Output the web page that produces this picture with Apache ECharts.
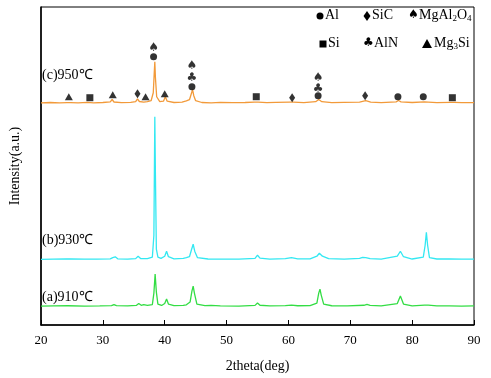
<!DOCTYPE html>
<html><head><meta charset="utf-8">
<script src="https://cdn.jsdelivr.net/npm/echarts@6/dist/echarts.min.js"></script>
<style>html,body{margin:0;padding:0;background:#fff}#c{width:491px;height:378px}</style>
</head><body><div id="c"></div>
<script>
// ---- Data ----
var xTicks = [20, 30, 40, 50, 60, 70, 80, 90];

// (c) 950 ℃
var cTheta = [20,21.5,23,24.2,24.5,24.8,26,27.5,28.5,30,31.2,31.5,31.8,33,34.5,35.3,35.6,35.9,36.6,36.9,37.2,37.8,38.15,38.3,38.4,38.5,38.7,39.2,39.8,40.1,40.4,41.5,42.8,43.5,44.0,44.3,44.5,44.7,45.0,46,47.5,49,51,53,54.5,54.8,55.1,56.5,58,60.2,60.5,60.8,62.5,64.4,64.9,65.4,67,69,71.5,72.5,73.3,75,77.4,77.8,78.2,80,82.0,82.3,82.6,84,86.2,86.5,86.8,88,90];
var cInt = [2228,2232,2229,2231,2245,2231,2228,2233,2229,2232,2238,2262,2237,2230,2233,2240,2268,2242,2236,2255,2240,2250,2330,2520,2640,2480,2290,2240,2245,2290,2245,2232,2236,2248,2260,2320,2360,2300,2250,2232,2229,2233,2230,2232,2236,2252,2236,2230,2233,2236,2246,2236,2231,2240,2262,2240,2231,2233,2235,2250,2236,2231,2238,2252,2238,2232,2238,2248,2236,2231,2234,2242,2233,2230,2231];

// (b) 930 ℃
var bTheta = [20,22,24.1,24.4,24.7,27,29,31.2,31.6,32.0,32.4,34,35.3,35.7,36.1,37.2,38.0,38.25,38.4,38.5,38.65,38.9,39.4,40.0,40.3,40.6,41.5,43.0,43.5,44.0,44.35,44.6,44.85,45.3,47,49,52,54.6,55.0,55.4,57,59.5,60.5,61.5,63.5,64.6,65.0,65.5,66.5,69,71.5,72.0,72.5,73.2,75,77.6,78.1,78.6,80,81.8,82.1,82.3,82.5,82.8,84,86,88,90];
var bInt = [659,661,662,680,662,660,661,664,676,684,664,661,666,690,667,665,680,900,2090,1500,760,680,668,690,740,685,664,668,676,685,760,810,740,675,662,661,660,668,700,670,661,665,676,664,663,690,720,690,665,661,668,678,676,666,661,690,740,685,662,680,800,930,800,675,662,663,660,661];

// (a) 910 ℃
var aTheta = [20,22,24.4,27,29.5,31.4,31.8,32.2,34,35.4,35.8,36.2,36.6,37.2,38.0,38.25,38.45,38.65,38.9,39.5,40.0,40.3,40.6,41.5,43.0,43.5,44.1,44.4,44.6,44.8,45.2,46.5,47.5,49,52,54.6,55.0,55.4,57,59.5,60.5,61.5,63.5,64.6,64.9,65.1,65.3,65.7,67,69.5,72.2,72.7,73.2,75,77.6,78.1,78.6,80,82.0,82.3,82.6,84,86,88,90];
var aInt = [189,191,193,190,191,194,205,194,191,196,215,198,204,196,205,320,510,330,210,196,215,260,210,194,197,203,230,340,390,320,210,194,197,191,190,197,220,198,192,195,200,193,194,220,320,360,300,210,193,192,198,206,197,191,215,290,210,192,200,215,199,191,192,190,191];

// Phase identification marks (2theta, level)
var alTheta = [38.2, 44.4, 64.8, 77.7, 81.8],      alLevel = [2690, 2390, 2300, 2290, 2290];
var sicTheta = [35.6, 60.6, 72.4],                  sicLevel = [2320, 2280, 2300];
var spinelTheta = [38.2, 44.4, 64.8],               spinelLevel = [2780, 2600, 2480];
var siTheta = [27.9, 54.8, 86.5],                   siLevel = [2280, 2290, 2280];
var alnTheta = [44.4, 64.8],                        alnLevel = [2480, 2370];
var mg2siTheta = [24.5, 31.6, 36.9, 40.0],          mg2siLevel = [2290, 2310, 2290, 2320];

var seriesNames = ['(c)950℃', '(b)930℃', '(a)910℃'];

function pairs(xs, ys){ return xs.map(function(x,i){ return [x, ys[i]]; }); }

var FONT = '"Times New Roman","Liberation Serif",serif';
var chart = echarts.init(document.getElementById('c'));

function lineSeries(name, xs, ys, color){
  return {name:name, type:'line', data:pairs(xs,ys), showSymbol:false, symbol:'none',
    lineStyle:{color:color, width:1.3}, silent:true, animation:false, z:3};
}
function markSeries(xs, ys, symbol, size){
  return {type:'scatter', data:pairs(xs,ys), symbol:symbol, symbolSize:size,
    itemStyle:{color:'#000'}, silent:true, animation:false, z:5};
}
function glyphSeries(xs, ys, glyph){
  return {type:'scatter', data:pairs(xs,ys), symbolSize:1, itemStyle:{color:'rgba(0,0,0,0)'},
    label:{show:true, position:'inside', formatter:glyph, color:'#000', fontSize:12, fontFamily:'DejaVu Sans'},
    silent:true, animation:false, z:5};
}

var rich = {n:{fontFamily:FONT, fontSize:14, color:'#000'}, s:{fontFamily:FONT, fontSize:9, color:'#000', padding:[8,0,0,0]}};

chart.setOption({
  animation:false,
  backgroundColor:'#fff',
  grid:{left:40, right:17, top:7, bottom:52, show:true, borderColor:'#000', borderWidth:1},
  xAxis:{type:'value', min:20, max:90, interval:10,
    name:'2theta(deg)', nameLocation:'middle', nameGap:34,
    nameTextStyle:{fontFamily:FONT, fontSize:14, color:'#000'},
    axisLine:{lineStyle:{color:'#000', width:1.5}},
    axisTick:{inside:true, length:5, lineStyle:{color:'#000'}},
    axisLabel:{fontFamily:FONT, fontSize:13, color:'#000', margin:9},
    splitLine:{show:false}},
  yAxis:{type:'value', min:0, max:3190,
    name:'Intensity(a.u.)', nameLocation:'middle', nameGap:19,
    nameTextStyle:{fontFamily:FONT, fontSize:14, color:'#000'},
    axisLine:{show:true, lineStyle:{color:'#000', width:1.5}},
    axisTick:{show:false}, axisLabel:{show:false}, splitLine:{show:false}},
  series:[
    lineSeries(seriesNames[0], cTheta, cInt, '#F29A3A'),
    lineSeries(seriesNames[1], bTheta, bInt, '#33E8F2'),
    lineSeries(seriesNames[2], aTheta, aInt, '#33DD44'),
    markSeries(alTheta, alLevel, 'circle', 7),
    markSeries(sicTheta, sicLevel, 'diamond', [6,9]),
    markSeries(siTheta, siLevel, 'rect', 7),
    markSeries(mg2siTheta, mg2siLevel, 'triangle', [8,7]),
    glyphSeries(spinelTheta, spinelLevel, '♠'),
    glyphSeries(alnTheta, alnLevel, '♣')
  ],
  graphic:[
    {type:'text', left:42, top:68, style:{text:seriesNames[0], font:'14px '+FONT, fill:'#000'}},
    {type:'text', left:42, top:233, style:{text:seriesNames[1], font:'14px '+FONT, fill:'#000'}},
    {type:'text', left:42, top:290, style:{text:seriesNames[2], font:'14px '+FONT, fill:'#000'}},
    // legend row 1
    {type:'circle', shape:{cx:320, cy:16, r:3.5}, style:{fill:'#000'}},
    {type:'text', left:325, top:8, style:{text:'Al', font:'14px '+FONT, fill:'#000'}},
    {type:'polygon', shape:{points:[[367,11],[370.5,16],[367,21],[363.5,16]]}, style:{fill:'#000'}},
    {type:'text', left:372, top:8, style:{text:'SiC', font:'14px '+FONT, fill:'#000'}},
    {type:'text', left:408, top:9, style:{text:'♠', font:'12px DejaVu Sans', fill:'#000'}},
    {type:'text', left:419, top:8, style:{text:'{n|MgAl}{s|2}{n|O}{s|4}', rich:rich}},
    // legend row 2
    {type:'rect', shape:{x:319.5, y:40.5, width:7, height:7}, style:{fill:'#000'}},
    {type:'text', left:328, top:36, style:{text:'Si', font:'14px '+FONT, fill:'#000'}},
    {type:'text', left:363, top:37, style:{text:'♣', font:'12px DejaVu Sans', fill:'#000'}},
    {type:'text', left:374, top:36, style:{text:'AlN', font:'14px '+FONT, fill:'#000'}},
    {type:'polygon', shape:{points:[[427,39],[432,48],[422,48]]}, style:{fill:'#000'}},
    {type:'text', left:434, top:36, style:{text:'{n|Mg}{s|3}{n|Si}', rich:rich}}
  ]
});
</script></body></html>
